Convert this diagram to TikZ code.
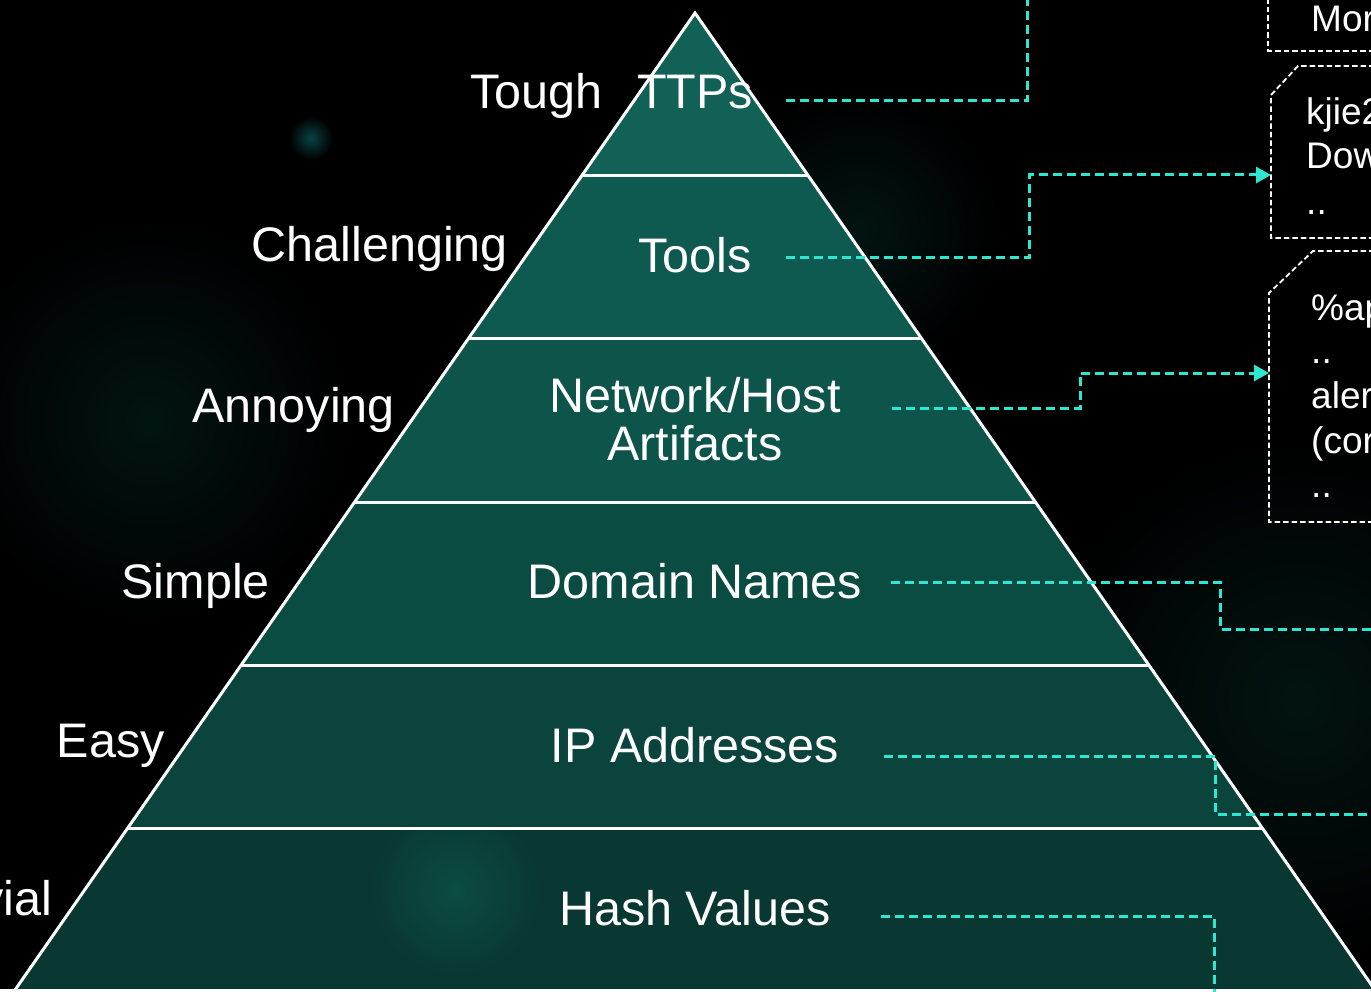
\documentclass[tikz,border=0pt]{standalone}
\usepackage{fontspec}
\setmainfont{Liberation Sans}
\usetikzlibrary{arrows.meta}
\definecolor{cyanline}{RGB}{45,232,208}
\definecolor{layA}{RGB}{17,97,87}
\definecolor{layB}{RGB}{15,90,80}
\definecolor{layC}{RGB}{13,84,74}
\definecolor{layD}{RGB}{11,76,66}
\definecolor{layE}{RGB}{10,68,60}
\definecolor{layF}{RGB}{8,56,49}
\definecolor{glowA}{RGB}{12,76,66}
\definecolor{glowB}{RGB}{10,66,66}
\definecolor{hazeA}{RGB}{2,20,18}
\begin{document}
\begin{tikzpicture}[x=1pt,y=-1pt,
  lvl/.style={font=\fontsize{48.5}{50}\selectfont, text=white, inner sep=0pt, anchor=base},
  side/.style={font=\fontsize{48.5}{50}\selectfont, text=white, inner sep=0pt, anchor=base east},
  boxtxt/.style={font=\fontsize{37}{40}\selectfont, text=white, inner sep=0pt, anchor=base west},
  link/.style={draw=cyanline, line width=3pt, dash pattern=on 9pt off 5pt},
  arr/.style={link, -{Triangle[length=15pt,width=16pt]}},
  box/.style={draw=white, line width=1.8pt, dash pattern=on 5.5pt off 3pt},
  edge/.style={draw=white, line width=3pt},
]
% background
\fill[black] (0,0) rectangle (1371,992);
\useasboundingbox (0,0) rectangle (1371,992);
\clip (0,0) rectangle (1371,992);
\shade[inner color=hazeA, outer color=black] (1300,700) circle (260);
\shade[inner color=hazeA, outer color=black] (150,420) circle (200);
\shade[inner color=hazeA, outer color=black] (860,230) circle (140);
\shade[inner color=glowB, outer color=black] (311,138) circle (22);

% pyramid layers
\fill[layA] (695,13) -- (808.4,176) -- (581.6,176) -- cycle;
\fill[layB] (581.6,176) -- (808.4,176) -- (921.9,339) -- (468.1,339) -- cycle;
\fill[layC] (468.1,339) -- (921.9,339) -- (1035.3,502) -- (354.7,502) -- cycle;
\fill[layD] (354.7,502) -- (1035.3,502) -- (1148.8,665) -- (241.2,665) -- cycle;
\fill[layE] (241.2,665) -- (1148.8,665) -- (1262.2,828) -- (127.8,828) -- cycle;
\fill[layF] (127.8,828) -- (1262.2,828) -- (1375,990) -- (15,990) -- cycle;
\begin{scope}
  \clip (127.8,829) -- (1262.2,829) -- (1375,989) -- (15,989) -- cycle;
  \shade[inner color=glowA, outer color=layF] (455,890) circle (85);
\end{scope}
% pyramid lines
\draw[edge, line join=miter] (15,990) -- (695,13) -- (1375,990);
\draw[edge] (581.6,176) -- (808.4,176);
\draw[edge] (468.1,339) -- (921.9,339);
\draw[edge] (354.7,502) -- (1035.3,502);
\draw[edge] (241.2,665) -- (1148.8,665);
\draw[edge] (127.8,828) -- (1262.2,828);
\draw[edge] (0,990) -- (1371,990);

% side labels
\node[side] (tough) at (603,109) {Tough};
\node[side] (chal) at (508,262) {Challenging};
\node[side] (anno) at (395,422) {Annoying};
\node[side] (simp) at (270,598) {Simple};
\node[side] (easy) at (165,757) {Easy};
\node[side] (triv) at (52,915) {Trivial};

% level labels
\node[lvl] (ttps) at (695,109) {TTPs};
\node[lvl] (tools) at (695,273) {Tools};
\node[lvl] (net) at (695,412) {Network/Host};
\node[lvl] (art) at (695,460) {Artifacts};
\node[lvl] (dom) at (695,598) {Domain Names};
\node[lvl] (ip) at (695,762) {IP Addresses};
\node[lvl] (hash) at (695,925) {Hash Values};

% boxes
\draw[box] (1268,-10) -- (1268,51) -- (1400,51);
\draw[box] (1400,66) -- (1298,66) -- (1271,95) -- (1271,238) -- (1400,238);
\draw[box] (1400,251) -- (1313,251) -- (1269,293) -- (1269,522) -- (1400,522);
\node[boxtxt] (mor) at (1311,32) {Mor};
\node[boxtxt] (b1) at (1306,125) {kjie2};
\node[boxtxt] (b2) at (1306,169) {Dow};
\node[boxtxt] (b3) at (1306,215) {..};
\node[boxtxt] (c1) at (1311,320) {\%ap};
\node[boxtxt] (c2) at (1311,363) {..};
\node[boxtxt] (c3) at (1311,408) {aler};
\node[boxtxt] (c4) at (1311,453) {(cor};
\node[boxtxt] (c5) at (1311,497) {..};

% connector anchors
\coordinate (s1) at (786,101);
\coordinate (s2) at (786,258);
\coordinate (s3) at (892,408);
\coordinate (s4) at (891,582);
\coordinate (s5) at (884,756);
\coordinate (s6) at (881,916);
\coordinate (e1) at (1027,-10);
\coordinate (tB) at (1271,175);
\coordinate (tC) at (1269,373);
\coordinate (e4) at (1380,629);
\coordinate (e5) at (1380,814);
\coordinate (e6) at (1214,1000);

% connectors
\draw[link] (s1) -| (e1);
\draw[arr] (s2) -- (1029,258) |- (tB);
\draw[arr] (s3) -- (1080,408) |- (tC);
\draw[link] (s4) -- (1220,582) |- (e4);
\draw[link] (s5) -- (1215,756) |- (e5);
\draw[link] (s6) -| (e6);
\end{tikzpicture}
\end{document}
